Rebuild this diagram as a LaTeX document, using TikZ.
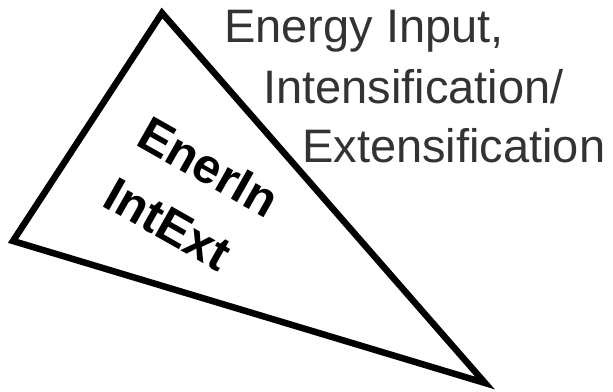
\documentclass[tikz,border=0pt]{standalone}
\usepackage{fontspec}
\setmainfont{Liberation Sans}
\definecolor{labelgray}{HTML}{333333}
\begin{document}
\begin{tikzpicture}[x=1pt,y=-1pt,
  tri/.style={line width=6.5pt,line join=miter,draw=black},
  side/.style={inner sep=0pt,anchor=base west,text=labelgray,font=\fontsize{47}{56}\selectfont},
  inner/.style={inner sep=0pt,anchor=base west,rotate=-29.5,text=black,font=\fontsize{49}{60}\selectfont\bfseries}]
\useasboundingbox (0,0) rectangle (613,391);
\coordinate (A) at (162,13);
\coordinate (B) at (13,241);
\coordinate (C) at (485,383);
\draw[tri] (A) -- (B) -- (C) -- cycle;
\node[side] (l1) at (224,42) {Energy Input,};
\node[side] (l2) at (263,103) {Intensification/};
\node[side] (l3) at (302,162) {Extensification};
\node[inner] (t1) at (134,144) {EnerIn};
\node[inner] (t2) at (100,205) {IntExt};
\end{tikzpicture}
\end{document}
